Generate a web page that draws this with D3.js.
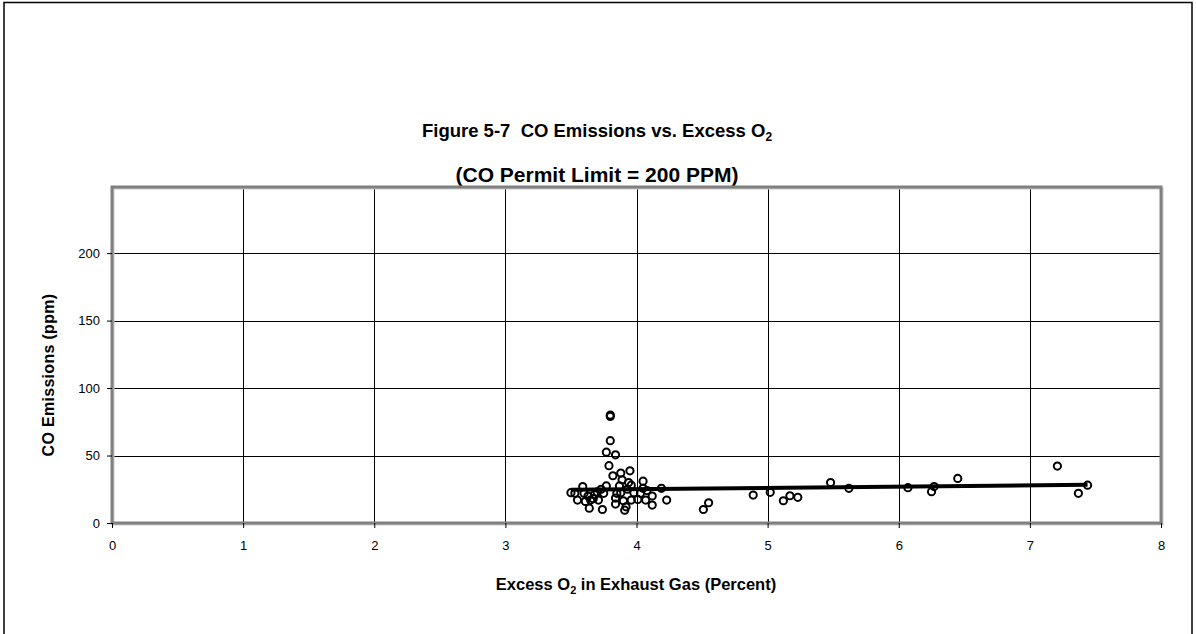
<!DOCTYPE html>
<html>
<head>
<meta charset="utf-8">
<script src="https://cdn.jsdelivr.net/npm/d3@7"></script>
<style>
  html, body { margin: 0; padding: 0; background: #fff; }
  svg { display: block; font-family: "Liberation Sans", Arial, sans-serif; }
  text { white-space: pre; }
</style>
</head>
<body>
<svg id="chart" width="1196" height="634"></svg>
<script>
// Excess O2 (percent) and CO emissions (ppm) for each test run
const o2Values = [
  3.50, 3.53, 3.55, 3.59, 3.60, 3.61, 3.63, 3.64, 3.65, 3.67,
  3.68, 3.70, 3.71, 3.73, 3.74, 3.75, 3.77, 3.77, 3.79, 3.80,
  3.80, 3.80, 3.82, 3.84, 3.84, 3.84, 3.85, 3.87, 3.88, 3.88,
  3.89, 3.90, 3.91, 3.92, 3.93, 3.94, 3.95, 3.96, 3.96, 3.98,
  4.01, 4.03, 4.05, 4.05, 4.07, 4.08, 4.12, 4.12, 4.19, 4.23,
  4.51, 4.55, 4.89, 5.02, 5.12, 5.17, 5.23, 5.48, 5.62, 6.07,
  6.25, 6.27, 6.45, 7.21, 7.37, 7.44
];
const coValues = [
  22.5, 22, 17, 27, 22, 16, 20, 11, 17, 18,
  21, 23, 17, 25, 10, 22, 27.5, 52.5, 42.5, 79,
  80, 61, 35, 50.5, 18.5, 14, 22, 27.5, 37, 22.5,
  32, 16.5, 9.5, 12, 25, 30, 38.7, 28, 17, 22.5,
  17.5, 22, 31, 25.7, 17, 24, 20, 13.3, 25.7, 17,
  10, 15, 20.7, 22.7, 16.5, 20.2, 19, 30, 25.7, 26.2,
  23.2, 27, 33, 42.2, 22, 28
];

// Linear trend line end points (O2 %, CO ppm)
const trendX = [3.50, 7.44];
const trendY = [24.6, 28.3];

const xTicks = [0, 1, 2, 3, 4, 5, 6, 7, 8];
const yTicks = [0, 50, 100, 150, 200];

const titleLine1 = "Figure 5-7  CO Emissions vs. Excess O";
const titleLine2 = "(CO Permit Limit = 200 PPM)";
const xTitle = ["Excess O", "2", " in Exhaust Gas (Percent)"];
const yTitle = "CO Emissions (ppm)";

const svg = d3.select("#chart");
const plot = { left: 112, right: 1161, top: 187, bottom: 523 };

const x = d3.scaleLinear().domain([0, 8]).range([plot.left, plot.right]);
const y = d3.scaleLinear().domain([0, 249]).range([plot.bottom, plot.top]);

// Outer frame
svg.append("rect")
  .attr("x", 4).attr("y", 2.5)
  .attr("width", 1188).attr("height", 700)
  .attr("fill", "none").attr("stroke", "#000").attr("stroke-width", 1.5);

// Titles
const t1 = svg.append("text")
  .attr("x", 597).attr("y", 137)
  .attr("text-anchor", "middle")
  .attr("font-size", 18.5).attr("font-weight", "bold");
t1.append("tspan").text(titleLine1);
t1.append("tspan").attr("font-size", 12).attr("dy", 4).text("2");

svg.append("text")
  .attr("x", 597).attr("y", 181.5)
  .attr("text-anchor", "middle")
  .attr("font-size", 21).attr("font-weight", "bold")
  .text(titleLine2);

// Gridlines
svg.append("g").selectAll("line")
  .data(yTicks.filter(d => d > 0))
  .join("line")
  .attr("x1", plot.left).attr("x2", plot.right)
  .attr("y1", d => Math.round(y(d)) + 0.5).attr("y2", d => Math.round(y(d)) + 0.5)
  .attr("stroke", "#000").attr("stroke-width", 1);

svg.append("g").selectAll("line")
  .data(xTicks.filter(d => d > 0 && d < 8))
  .join("line")
  .attr("x1", d => Math.round(x(d)) + 0.5).attr("x2", d => Math.round(x(d)) + 0.5)
  .attr("y1", plot.top).attr("y2", plot.bottom)
  .attr("stroke", "#000").attr("stroke-width", 1);

// Plot area border (grey with a faint shadow)
svg.append("rect")
  .attr("x", plot.left + 1.5).attr("y", plot.top + 1.5)
  .attr("width", plot.right - plot.left).attr("height", plot.bottom - plot.top)
  .attr("fill", "none").attr("stroke", "#c8c8c8").attr("stroke-width", 2);
svg.append("rect")
  .attr("x", plot.left).attr("y", plot.top)
  .attr("width", plot.right - plot.left).attr("height", plot.bottom - plot.top)
  .attr("fill", "none").attr("stroke", "#808080").attr("stroke-width", 3);

// Axes
const xAxis = d3.axisBottom(x).tickValues(xTicks).tickSize(5).tickPadding(13)
  .tickFormat(d3.format("d"));
const gx = svg.append("g").attr("transform", `translate(0,${plot.bottom})`).call(xAxis);
gx.select(".domain").remove();
gx.selectAll(".tick line").attr("stroke", "#000");
gx.selectAll(".tick text").attr("font-size", 13).attr("font-family", "Liberation Sans, Arial, sans-serif").attr("fill", "#000");

const yAxis = d3.axisLeft(y).tickValues(yTicks).tickSize(5).tickPadding(7)
  .tickFormat(d3.format("d"));
const gy = svg.append("g").attr("transform", `translate(${plot.left},0)`).call(yAxis);
gy.select(".domain").remove();
gy.selectAll(".tick line").attr("stroke", "#000");
gy.selectAll(".tick text").attr("font-size", 13).attr("font-family", "Liberation Sans, Arial, sans-serif").attr("fill", "#000");

// Axis titles
const xt = svg.append("text")
  .attr("x", 636).attr("y", 590)
  .attr("text-anchor", "middle")
  .attr("font-size", 16.5).attr("font-weight", "bold");
xt.append("tspan").text(xTitle[0]);
xt.append("tspan").attr("font-size", 11).attr("dy", 3.5).text(xTitle[1]);
xt.append("tspan").attr("dy", -3.5).text(xTitle[2]);

svg.append("text")
  .attr("transform", "translate(54,375) rotate(-90)")
  .attr("text-anchor", "middle")
  .attr("font-size", 16).attr("font-weight", "bold")
  .attr("letter-spacing", 0.3)
  .text(yTitle);

// Trend line
const points = o2Values.map((v, i) => ({ o2: v, co: coValues[i] }));
const trend = trendX.map((v, i) => [v, trendY[i]]);
svg.append("path")
  .datum(trend)
  .attr("d", d3.line().x(d => x(d[0])).y(d => y(d[1])))
  .attr("stroke", "#000").attr("stroke-width", 4).attr("fill", "none");

// Data points
svg.append("g").selectAll("circle")
  .data(points)
  .join("circle")
  .attr("cx", d => x(d.o2)).attr("cy", d => y(d.co))
  .attr("r", 3.6)
  .attr("fill", "none").attr("stroke", "#000").attr("stroke-width", 2);
</script>
</body>
</html>
